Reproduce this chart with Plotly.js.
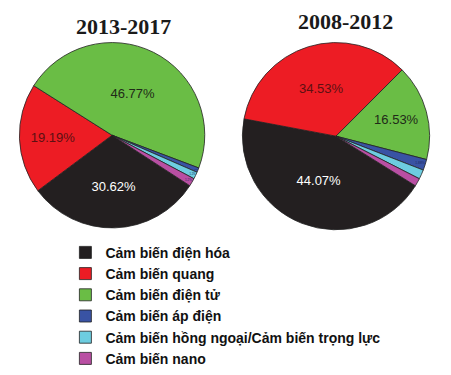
<!DOCTYPE html>
<html>
<head>
<meta charset="utf-8">
<script src="https://cdn.plot.ly/plotly-3.0.1.min.js"></script>
<style>html,body{margin:0;padding:0;background:#fff;}#chart{width:451px;height:375px;}</style>
</head>
<body>
<div id="chart"></div>
<script>
const categories = [
  "Cảm biến điện hóa",
  "Cảm biến quang",
  "Cảm biến điện tử",
  "Cảm biến áp điện",
  "Cảm biến hồng ngoại/Cảm biến trọng lực",
  "Cảm biến nano"
];
const periods = ["2013-2017", "2008-2012"];
const values2013_2017 = [30.62, 19.19, 46.77, 0.80, 1.22, 1.40];
const values2008_2012 = [44.07, 34.53, 16.53, 1.88, 1.62, 1.37];
const labels2013_2017 = ["30.62%", "19.19%", "46.77%", "1.2%", "1.2%", "1.2%"];
const labels2008_2012 = ["44.07%", "34.53%", "16.53%", "1.88%", "", ""];

const colors = ["#231f20", "#ed1c24", "#6abd45", "#3953a4", "#6dcde0", "#b94fa3"];
const textColors = ["#ffffff", "#5c1012", "#1f2a18", "#1e2a60", "#1e2a60", "#1e2a60"];

function pieTrace(vals, txt, domain, rot, showLegend) {
  return {
    type: "pie",
    labels: categories,
    values: vals,
    text: txt,
    textinfo: "text",
    texttemplate: "%{text}",
    hoverinfo: "label+value",
    sort: false,
    direction: "clockwise",
    rotation: rot,
    domain: domain,
    marker: { colors: colors, line: { color: "#222222", width: 0.8 } },
    textposition: "inside",
    insidetextorientation: "horizontal",
    insidetextfont: { family: "Liberation Sans, Arial, sans-serif", size: 13, color: textColors },
    showlegend: showLegend
  };
}

const data = [
  pieTrace(values2013_2017, labels2013_2017, { x: [0.04, 0.457], y: [0.384, 0.885] }, 123, true),
  pieTrace(values2008_2012, labels2008_2012, { x: [0.534, 0.956], y: [0.379, 0.885] }, 122, false)
];

const layout = {
  width: 451,
  height: 375,
  margin: { l: 0, r: 0, t: 0, b: 0 },
  paper_bgcolor: "#ffffff",
  showlegend: true,
  legend: {
    x: 0.145, y: 0.36, xanchor: "left", yanchor: "top",
    font: { family: "Liberation Sans, Arial, sans-serif", size: 14, color: "#111111", weight: "bold" },
    bgcolor: "rgba(0,0,0,0)",
    traceorder: "normal"
  },
  annotations: [
    { text: periods[0], x: 0.273, y: 0.928, xref: "paper", yref: "paper", xanchor: "center", yanchor: "middle", showarrow: false,
      font: { family: "Liberation Serif, Times New Roman, serif", size: 22, color: "#1a1a1a", weight: "bold" } },
    { text: periods[1], x: 0.765, y: 0.941, xref: "paper", yref: "paper", xanchor: "center", yanchor: "middle", showarrow: false,
      font: { family: "Liberation Serif, Times New Roman, serif", size: 22, color: "#1a1a1a", weight: "bold" } }
  ]
};

Plotly.newPlot("chart", data, layout, { displayModeBar: false, staticPlot: true });
</script>
</body>
</html>
